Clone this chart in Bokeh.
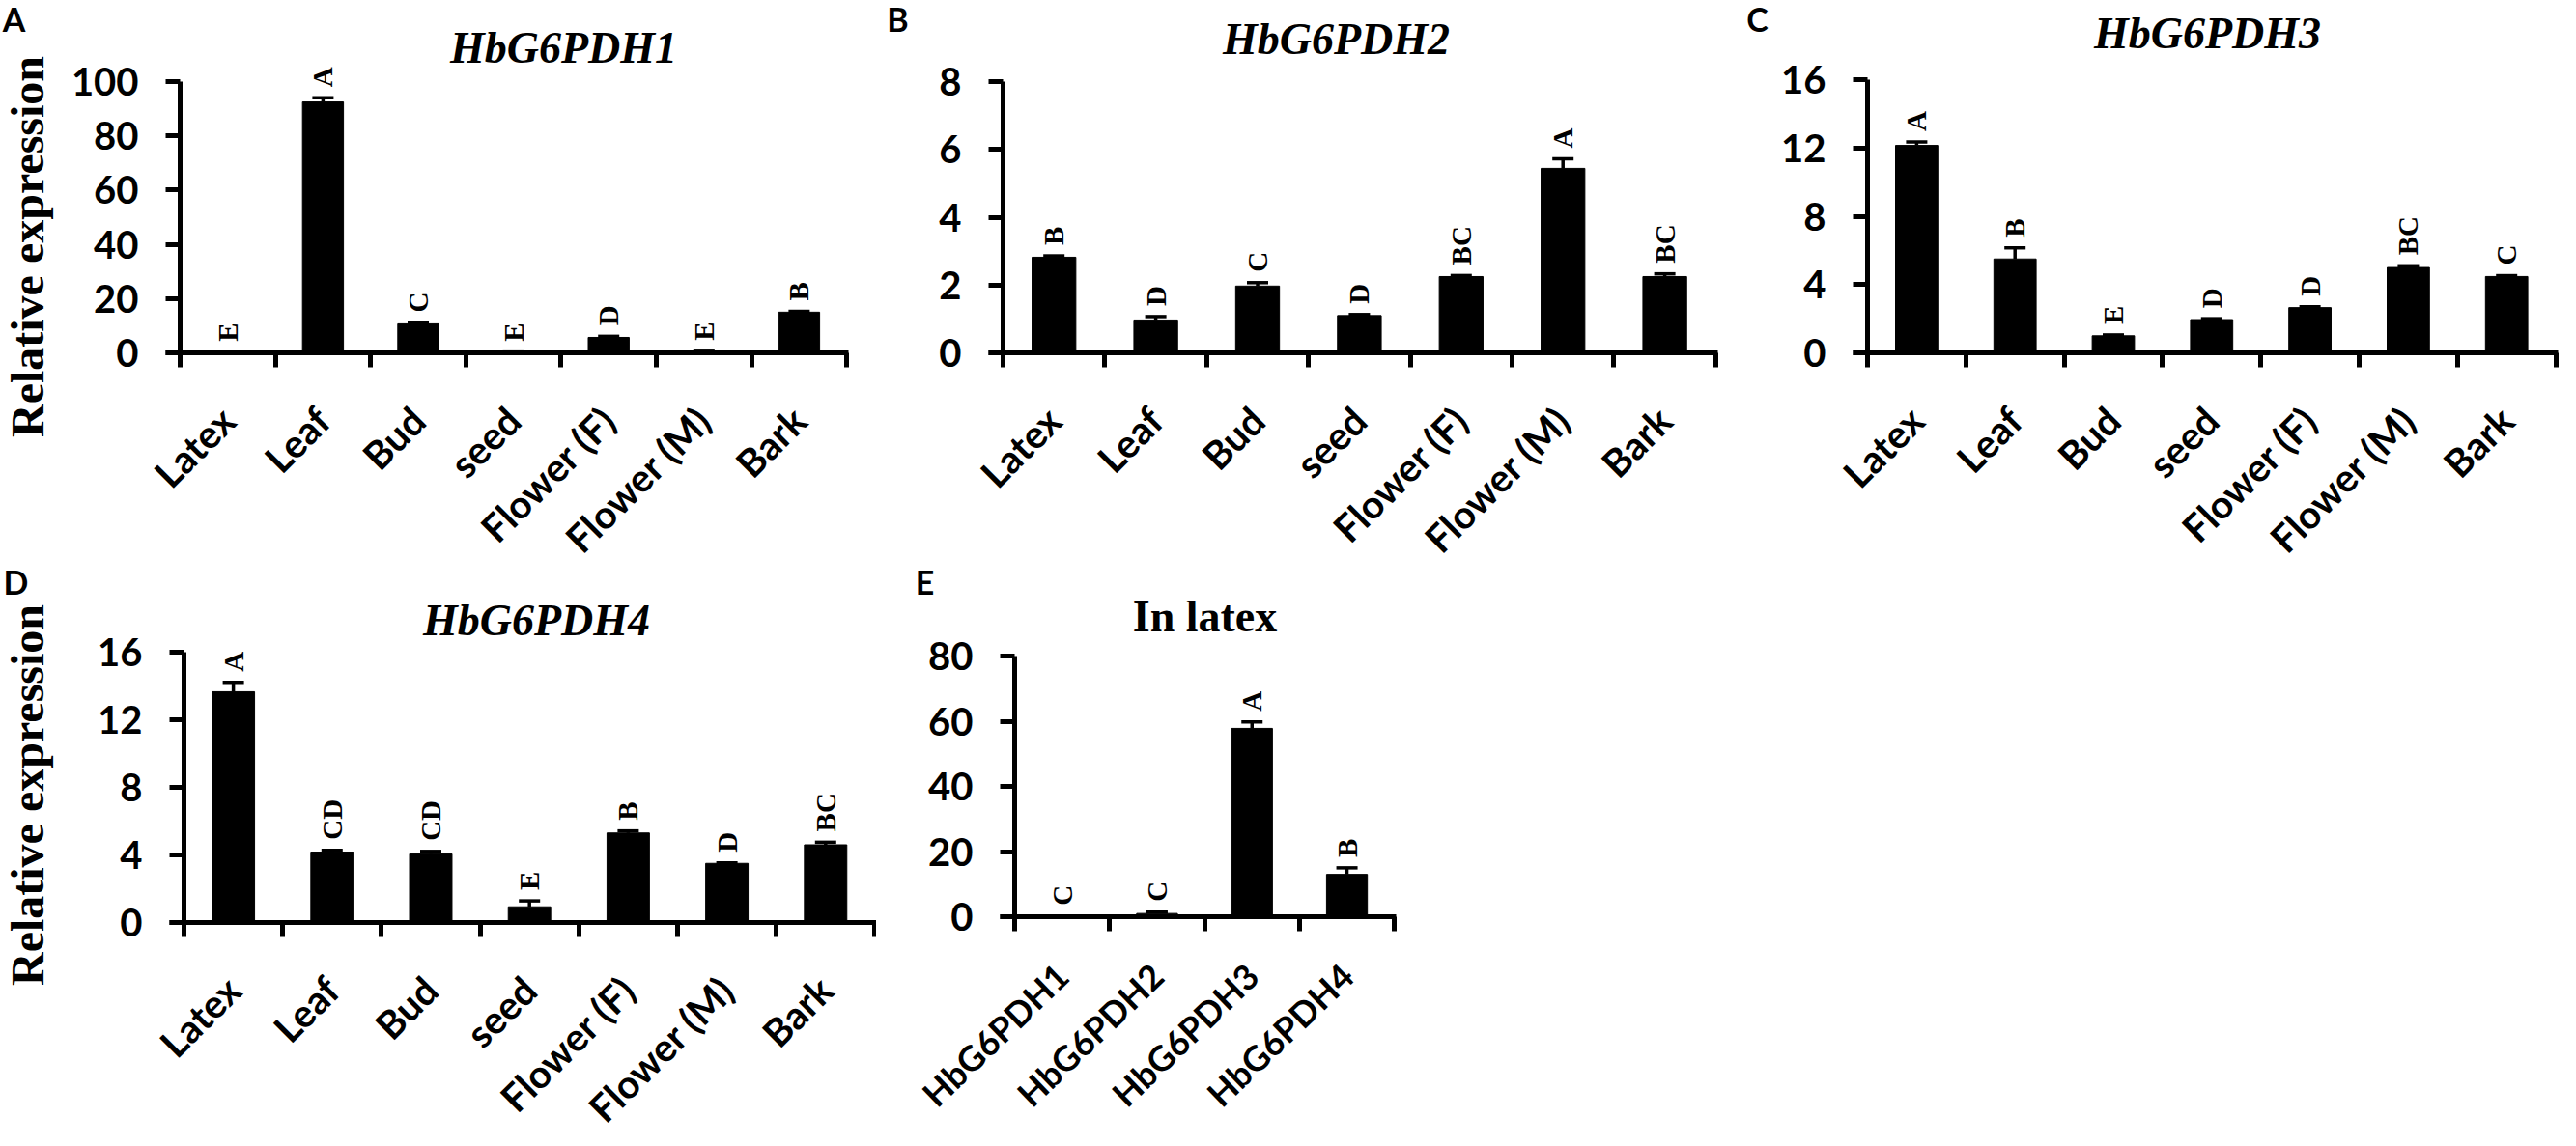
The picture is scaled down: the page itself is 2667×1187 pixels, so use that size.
import math
from bokeh.plotting import figure
from bokeh.models import Range1d, FixedTicker, ColumnDataSource, Whisker, TeeHead, Label, LabelSet
from bokeh.layouts import row, column
from bokeh.embed import file_html
from bokeh.resources import INLINE
from bokeh.core.properties import value

# ---------------- data ----------------
tissues = ["Latex", "Leaf", "Bud", "seed", "Flower (F)", "Flower (M)", "Bark"]
genes = ["HbG6PDH1", "HbG6PDH2", "HbG6PDH3", "HbG6PDH4"]

g1_vals = [0.3, 92.5, 10.7, 0.3, 5.7, 0.6, 15.0]
g1_errs = [0.0, 1.5, 0.3, 0.0, 0.4, 0.0, 0.3]
g1_letters = ["E", "A", "C", "E", "D", "E", "B"]
g1_ticks = [0, 20, 40, 60, 80, 100]

g2_vals = [2.82, 0.97, 1.97, 1.10, 2.25, 5.44, 2.25]
g2_errs = [0.04, 0.10, 0.10, 0.03, 0.03, 0.28, 0.08]
g2_letters = ["B", "D", "C", "D", "BC", "A", "BC"]
g2_ticks = [0, 2, 4, 6, 8]

g3_vals = [12.15, 5.5, 1.0, 1.95, 2.65, 5.0, 4.47]
g3_errs = [0.20, 0.65, 0.05, 0.05, 0.05, 0.10, 0.05]
g3_letters = ["A", "B", "E", "D", "D", "BC", "C"]
g3_ticks = [0, 4, 8, 12, 16]

g4_vals = [13.66, 4.17, 4.06, 0.93, 5.3, 3.5, 4.6]
g4_errs = [0.55, 0.10, 0.15, 0.35, 0.12, 0.03, 0.15]
g4_letters = ["A", "CD", "CD", "E", "B", "D", "BC"]
g4_ticks = [0, 4, 8, 12, 16]

lat_vals = [0.2, 1.0, 57.8, 13.0]
lat_errs = [0.0, 0.4, 2.0, 2.0]
lat_letters = ["C", "C", "A", "B"]
lat_ticks = [0, 20, 40, 60, 80]

SANS = "Lato"
SERIF = "Liberation Serif"


def panel(cats, vals, errs, letters, yticks, title, title_style, plabel,
          canvas, axis_x, cat_px, zero_y, top_y,
          title_c, plabel_c, ylabel_c=None,
          xlab_size="40px", xlab_angle=45, xlab_standoff=48):
    """canvas = (page_x, page_y, width, height); all other geometry in page pixels."""
    px, py, W, H = canvas
    n = len(cats)
    ymax = yticks[-1]
    ppu = (zero_y - top_y) / ymax
    x0 = -(axis_x - px) / cat_px
    x1 = n + (px + W - (axis_x + n * cat_px)) / cat_px
    y0 = -(py + H - zero_y) / ppu
    y1 = ymax + (top_y - py) / ppu

    p = figure(width=W, height=H, x_range=Range1d(x0, x1), y_range=Range1d(y0, y1),
               output_backend="svg", toolbar_location=None, min_border=0)
    p.title.visible = False
    p.xgrid.visible = False
    p.ygrid.visible = False
    p.outline_line_color = None
    p.background_fill_color = "white"
    p.border_fill_color = "white"

    centers = [i + 0.5 for i in range(n)]
    uppers = [v + e for v, e in zip(vals, errs)]
    gap = 11 / ppu
    src = ColumnDataSource(dict(x=centers, top=vals, upper=uppers, letter=letters,
                                ly=[u + gap for u in uppers]))

    p.vbar(x="x", top="top", bottom=0, width=0.43, source=src,
           fill_color="black", line_color="black")
    p.add_layout(Whisker(source=src, base="x", lower="top", upper="upper",
                         line_width=3.5, line_color="black",
                         upper_head=TeeHead(size=22, line_width=3.5, line_color="black"),
                         lower_head=None))
    p.add_layout(LabelSet(source=src, x="x", y="ly", text="letter", angle=math.pi / 2,
                          text_align="left", text_baseline="middle",
                          text_font=value(SERIF), text_font_style="bold",
                          text_font_size="29px", text_color="black"))

    xa = p.xaxis[0]
    xa.fixed_location = 0
    xa.bounds = (-15 / cat_px, n + 2 / cat_px)
    xa.ticker = FixedTicker(ticks=centers, minor_ticks=list(range(n + 1)))
    xa.major_label_overrides = {c: name for c, name in zip(centers, cats)}
    xa.major_label_orientation = math.radians(xlab_angle)
    xa.major_tick_out = 0
    xa.major_tick_in = 0
    xa.major_tick_line_color = None
    xa.minor_tick_out = 15
    xa.minor_tick_in = 0
    xa.minor_tick_line_width = 5
    xa.minor_tick_line_color = "black"
    xa.axis_line_width = 5
    xa.axis_line_color = "black"
    xa.major_label_text_font = SANS
    xa.major_label_text_font_style = "bold"
    xa.major_label_text_font_size = xlab_size
    xa.major_label_text_color = "black"
    xa.major_label_standoff = xlab_standoff

    ya = p.yaxis[0]
    ya.fixed_location = 0
    ya.bounds = (0, ymax)
    ya.ticker = FixedTicker(ticks=yticks, minor_ticks=[])
    ya.major_tick_out = 15
    ya.major_tick_in = 0
    ya.major_tick_line_width = 5
    ya.major_tick_line_color = "black"
    ya.minor_tick_line_color = None
    ya.axis_line_width = 5
    ya.axis_line_color = "black"
    ya.major_label_text_font = SANS
    ya.major_label_text_font_style = "bold"
    ya.major_label_text_font_size = "40px"
    ya.major_label_text_color = "black"
    ya.major_label_standoff = 28

    def scr(pt):
        return pt[0] - px, py + H - pt[1]

    tx, ty = scr(title_c)
    p.add_layout(Label(x=tx, y=ty, x_units="screen", y_units="screen",
                       text=title, text_align="center", text_baseline="middle",
                       text_font=SERIF, text_font_style=title_style,
                       text_font_size="46px", text_color="black"))
    lx, ly = scr(plabel_c)
    p.add_layout(Label(x=lx, y=ly, x_units="screen", y_units="screen",
                       text=plabel, text_align="center", text_baseline="middle",
                       text_font=SANS, text_font_style="bold",
                       text_font_size="34px", text_color="black"))
    if ylabel_c is not None:
        yx, yy = scr(ylabel_c)
        p.add_layout(Label(x=yx, y=yy, x_units="screen", y_units="screen",
                           text="Relative expression", angle=math.pi / 2,
                           text_align="center", text_baseline="middle",
                           text_font=SERIF, text_font_style="bold",
                           text_font_size="48px", text_color="black"))
    return p


pA = panel(tissues, g1_vals, g1_errs, g1_letters, g1_ticks, "HbG6PDH1", "bold italic", "A",
           (8, 8, 912, 582), 194, 98.6, 373, 92, (591, 57), (22, 27), (36, 263))
pB = panel(tissues, g2_vals, g2_errs, g2_letters, g2_ticks, "HbG6PDH2", "bold italic", "B",
           (920, 8, 885, 582), 1046, 105.4, 373, 92, (1391, 48), (937, 27))
pC = panel(tissues, g3_vals, g3_errs, g3_letters, g3_ticks, "HbG6PDH3", "bold italic", "C",
           (1805, 8, 854, 582), 1941, 101.8, 373, 90, (2293, 42), (1827, 27))
pD = panel(tissues, g4_vals, g4_errs, g4_letters, g4_ticks, "HbG6PDH4", "bold italic", "D",
           (8, 590, 907, 589), 198, 102.2, 963, 683, (563, 650), (24, 610), (36, 831))
pE = panel(genes, lat_vals, lat_errs, lat_letters, lat_ticks, "In latex", "bold", "E",
           (915, 590, 730, 589), 1058, 98.3, 957, 687, (1255, 646), (965, 610),
           xlab_size="36px", xlab_angle=44, xlab_standoff=40)

layout = column(row(pA, pB, pC), row(pD, pE))
open("out.html", "w").write(file_html(layout, INLINE))
